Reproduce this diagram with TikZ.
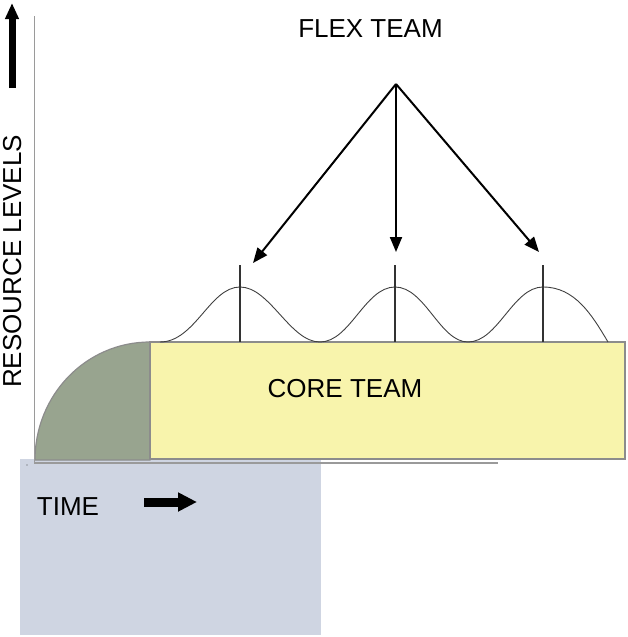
\documentclass[tikz,border=0pt]{standalone}
\usepackage{fontspec}
\setmainfont{Liberation Sans}
\usetikzlibrary{arrows.meta}
\definecolor{timebg}{HTML}{CFD5E2}
\definecolor{rampgreen}{HTML}{98A48F}
\definecolor{coreyellow}{HTML}{F8F4AC}
\definecolor{edgegray}{HTML}{8C8C8C}
\definecolor{axisgray}{HTML}{9A9A9A}
\tikzset{
  lbl/.style={font=\fontsize{26}{30}\selectfont, inner sep=0pt, text=black},
  flexarrow/.style={line width=2pt, -{Triangle[length=15pt,width=12pt]}},
  bump/.style={line width=0.9pt, draw=black!75},
  peakline/.style={line width=1.6pt, draw=black!80},
  axis/.style={line width=1.6pt, draw=axisgray},
}
\begin{document}
\begin{tikzpicture}[x=1pt,y=-1pt]
\useasboundingbox (0,0) rectangle (627,637);
% time panel
\fill[timebg] (20,459) rectangle (321,635);
% ramp-up
\filldraw[fill=rampgreen, draw=edgegray, line width=1.2pt]
  (35,460) .. controls (35,395) and (86,342) .. (150,342) -- (150,460) -- cycle;
% core team block
\filldraw[fill=coreyellow, draw=edgegray, line width=1.6pt] (150,342) rectangle (625,459);
% axes
\draw[axis] (34.5,16) -- (34.5,462);
\draw[axis] (34,463) -- (498,463);
\fill[black!70] (27,465) circle (0.7pt);
% bumps
\draw[bump] (160,342) .. controls (195,342) and (210,287) .. (240,287)
  .. controls (270,287) and (290,342) .. (320,342)
  .. controls (350,342) and (365,287) .. (395,287)
  .. controls (425,287) and (440,342) .. (468,342)
  .. controls (498,342) and (513,287) .. (543,287)
  .. controls (575,287) and (592,315) .. (608,342);
\draw[peakline] (240,265) -- (240,342);
\draw[peakline] (395,265) -- (395,342);
\draw[peakline] (543,265) -- (543,342);
% labels
\node[lbl, anchor=base] (flex) at (370.5,37) {FLEX TEAM};
\node[lbl, anchor=base] (core) at (345,397) {CORE TEAM};
\node[lbl, anchor=base, rotate=90] (res) at (21,261.5) {RESOURCE LEVELS};
\node[lbl, anchor=base] (time) at (68,515) {TIME};
% flex arrows
\coordinate (apex) at (396,84);
\coordinate (t1) at (253,263);
\coordinate (t2) at (396,252);
\coordinate (t3) at (539,252);
\draw[flexarrow] (apex) -- (t1);
\draw[flexarrow] (apex) -- (t2);
\draw[flexarrow] (apex) -- (t3);
% direction arrows
\coordinate (up0) at (12,88);
\coordinate (up1) at (12,3);
\draw[line width=7pt, -{Triangle[length=16pt,width=13pt]}] (up0) -- (up1);
\coordinate (r0) at (144,502);
\coordinate (r1) at (197,502);
\draw[line width=9pt, -{Triangle[length=19pt,width=18pt]}] (r0) -- (r1);
\end{tikzpicture}
\end{document}
